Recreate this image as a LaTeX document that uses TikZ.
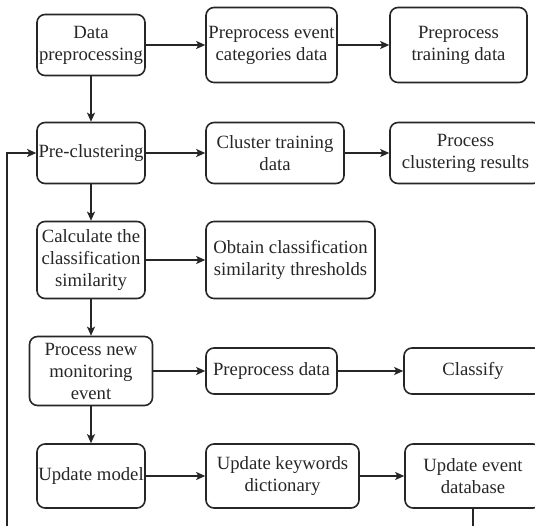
\documentclass[tikz,border=0pt]{standalone}
\usepackage{fontspec}
\setmainfont{Liberation Serif}
\usetikzlibrary{arrows.meta}

\tikzset{
  stepbox/.style={draw=black!85, line width=1.6pt, rounded corners=8pt,
    inner sep=0pt, align=center, font=\fontsize{18.7}{22}\selectfont,
    text=black!85},
  flow/.style={draw=black!85, line width=1.6pt,
    -{Stealth[length=9pt,width=8pt,inset=2pt]}},
}

\begin{document}
\begin{tikzpicture}[x=1pt, y=-1pt]
  \useasboundingbox (0,0) rectangle (535,526);
  \clip (0,0) rectangle (535,526);

  % main column
  \node[stepbox, minimum width=108pt, minimum height=61pt] (dp)  at (91,45)  {Data\\preprocessing};
  \node[stepbox, minimum width=108pt, minimum height=61pt] (pc)  at (91,153) {Pre-clustering};
  \node[stepbox, minimum width=108pt, minimum height=77pt] (cal) at (91,260) {Calculate the\\classification\\similarity};
  \node[stepbox, minimum width=123pt, minimum height=69pt] (pne) at (91,371) {Process new\\monitoring\\event};
  \node[stepbox, minimum width=108pt, minimum height=64pt] (um)  at (91,476) {Update model};

  % second column
  \node[stepbox, minimum width=131pt, minimum height=75pt] (pec) at (271.5,45) {Preprocess event\\categories data};
  \node[stepbox, minimum width=138pt, minimum height=61pt] (ctd) at (275,153)  {Cluster training\\data};
  \node[stepbox, minimum width=169pt, minimum height=77pt] (ocs) at (290.5,260){Obtain classification\\similarity thresholds};
  \node[stepbox, minimum width=131pt, minimum height=46pt] (ppd) at (271.5,371){Preprocess data};
  \node[stepbox, minimum width=153pt, minimum height=64pt] (ukd) at (282.5,476){Update keywords\\dictionary};

  % third column
  \node[stepbox, minimum width=137pt, minimum height=75pt] (ptd) at (458.5,45) {Preprocess\\training data};
  \node[stepbox, minimum width=151pt, minimum height=61pt] (pcr) at (465.5,153){Process\\clustering results};
  \node[stepbox, minimum width=138pt, minimum height=46pt] (cls) at (473,371)  {Classify};
  \node[stepbox, minimum width=136pt, minimum height=64pt] (ued) at (473,476)  {Update event\\database};

  % vertical flow
  \draw[flow] (dp)  -- (pc);
  \draw[flow] (pc)  -- (cal);
  \draw[flow] (cal) -- (pne);
  \draw[flow] (pne) -- (um);

  % horizontal flow
  \draw[flow] (dp)  -- (pec);
  \draw[flow] (pec) -- (ptd);
  \draw[flow] (pc)  -- (ctd);
  \draw[flow] (ctd) -- (pcr);
  \draw[flow] (cal) -- (ocs);
  \draw[flow] (pne.east |- ppd) -- (ppd);
  \draw[flow] (ppd) -- (cls);
  \draw[flow] (um)  -- (ukd);
  \draw[flow] (ukd) -- (ued);

  % feedback loop back to pre-clustering
  \coordinate (fbR) at (473,545);
  \coordinate (fbL) at (7,545);
  \draw[flow] (ued.south) -- (fbR) -- (fbL) |- (pc.west);
\end{tikzpicture}
\end{document}
